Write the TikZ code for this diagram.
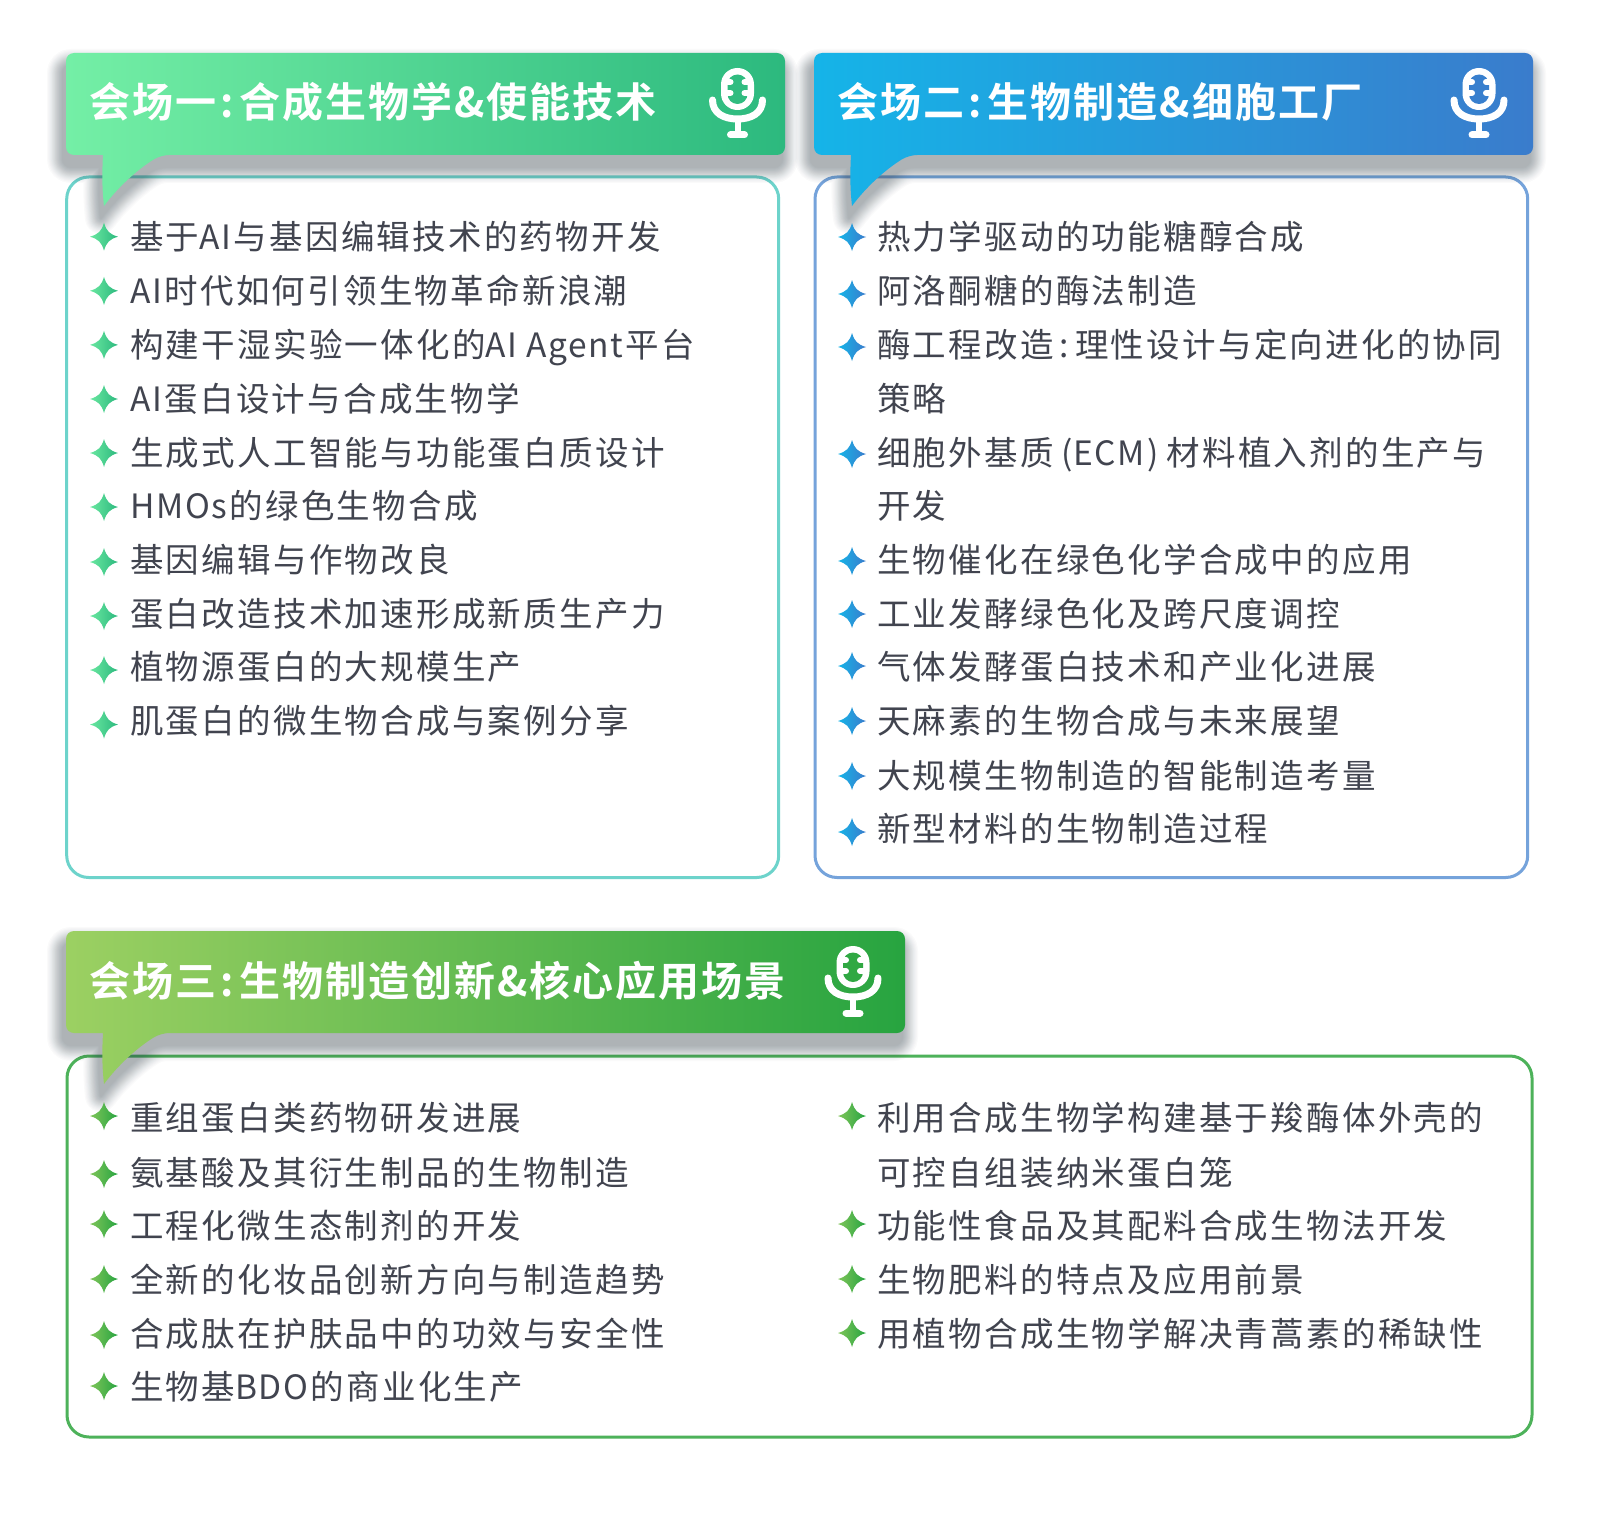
\documentclass[tikz,border=0pt]{standalone}
\usepackage{fontspec}
\setmainfont{Noto Sans CJK SC}
\newfontfamily\itemfont[LetterSpace=6.8]{Noto Sans CJK SC}
\newfontfamily\latfont[LetterSpace=4.8]{Noto Sans CJK SC}
\newfontfamily\headfont[LetterSpace=4.8,BoldFont={Noto Sans CJK SC Bold}]{Noto Sans CJK SC}
\definecolor{txtgray}{HTML}{41444F}
\definecolor{shadowgray}{HTML}{3C4A52}
\definecolor{onea}{HTML}{74EFA6}
\definecolor{oneb}{HTML}{2CB97E}
\definecolor{twoa}{HTML}{15B4E8}
\definecolor{twob}{HTML}{3A7CCC}
\definecolor{threea}{HTML}{9CD062}
\definecolor{threeb}{HTML}{27A440}
\definecolor{boxone}{HTML}{6DD3CB}
\definecolor{boxthree}{HTML}{4DB25A}
\tikzset{
  itemtxt/.style={anchor=west,inner sep=0pt,text=txtgray,text height=28pt,text depth=3pt,
    font=\itemfont\fontsize{33.5}{36}\selectfont},
  headtxt/.style={anchor=west,inner sep=0pt,text=white,text height=30pt,text depth=3pt,
    font=\headfont\bfseries\fontsize{41}{42}\selectfont},
  boxline/.style={line width=3pt,rounded corners=22pt,fill=white}
}
% banner outline, origin at its top left corner
\newcommand{\bannerpath}[1]{(30,0) [rounded corners=8pt] -- (#1,0) -- (#1,102) -- (95,102)
  [sharp corners] .. controls (72,116) and (52,134) .. (38,153)
  .. controls (36,135) and (36,120) .. (37,102)
  [rounded corners=8pt] -- (0,102) -- (0,0) -- cycle}
% banner with soft shadow: x, y, width, left colour, right colour
\newcommand{\banner}[5]{
  \begin{scope}[shift={(#1,#2)}]
    \foreach \r in {1,1.7,2.4,3.1,3.8,4.5,5.2,5.9,6.6,7.3,8,8.7,9.4,10.1,10.8,11.7,12.6,13.6,14.8,16}{
      \begin{scope}[transparency group,opacity=.023,shift={(-3,12)}]
        \path[fill=shadowgray,draw=shadowgray,line width=2*\r pt,line join=round] \bannerpath{#3};
      \end{scope}
    }
    \shade[left color=#4,right color=#5] \bannerpath{#3};
  \end{scope}
}
% microphone: centre x, banner top y, ground colour
\newcommand{\micicon}[3]{
  \begin{scope}[shift={(#1,#2)}]
    \fill[white,rounded corners=16.4pt] (-16.5,15) rectangle (16.5,57);
    \fill[#3,rounded corners=10pt] (-10,21.5) rectangle (10,51);
    \draw[white,line width=6pt,line cap=round] (-11,29) -- (-7,29) (11,29) -- (7,29)
      (-11,40) -- (-7,40) (11,40) -- (7,40);
    \draw[white,line width=7pt,line cap=round] (-25,47) .. controls (-25,60) and (-14,66) .. (0,66)
      .. controls (14,66) and (25,60) .. (25,47);
    \draw[white,line width=6pt] (0,66) -- (0,80);
    \draw[white,line width=7pt,line cap=round] (-7,82) -- (7,82);
  \end{scope}
}
% list marker: x, y, left colour, right colour
\newcommand{\starmark}[4]{
  \shade[left color=#3,right color=#4,shift={(#1,#2)}] (0,-14) .. controls (2.5,-5.5) and (5.5,-2.5) .. (14,0)
    .. controls (5.5,2.5) and (2.5,5.5) .. (0,14) .. controls (-2.5,5.5) and (-5.5,2.5) .. (-14,0)
    .. controls (-5.5,-2.5) and (-2.5,-5.5) .. (0,-14) -- cycle;
}
\newcommand{\itemcolon}{\hspace{6pt}:\hspace{6pt}}
\newcommand{\headcolon}{\hspace{4pt}:\hspace{6pt}}
\newcommand{\lat}[1]{{\latfont #1}\hspace{2.5pt}}
\begin{document}
\begin{tikzpicture}[x=1pt,y=-1pt]
  \useasboundingbox (0,0) rectangle (1600,1525);
  \fill[white] (0,0) rectangle (1600,1525);
  % frames
  \draw[boxline,draw=boxone] (66.7,177) rectangle (778.7,877.5);
  \draw[boxline,draw=twob!70!white] (815,177) rectangle (1527.7,877.5);
  \draw[boxline,draw=boxthree] (67,1056) rectangle (1532,1437);
  % banners
  \banner{66}{53}{719}{onea}{oneb}
  \banner{814}{53}{719}{twoa}{twob}
  \banner{66}{931}{839}{threea}{threeb}
  \node[headtxt] (head1) at (89,104) {会场一\headcolon 合成生物学\&使能技术};
  \node[headtxt] (head2) at (837.5,104) {会场二\headcolon 生物制造\&细胞工厂};
  \node[headtxt] (head3) at (89,983) {会场三\headcolon 生物制造创新\&核心应用场景};
  \micicon{737.5}{53}{oneb!95!onea}
  \micicon{1479}{53}{twob!95!twoa}
  \micicon{853}{931}{threeb!92!threea}
  % first hall
  \foreach \i/\ty/\sy/\txt in {
    1/236.7/236.7/基于\lat{AI}与基因编辑技术的药物开发,
    2/290.8/290.8/\lat{AI}时代如何引领生物革命新浪潮,
    3/344.9/344.9/构建干湿实验一体化的\lat{AI Agent}平台,
    4/399/399/\lat{AI}蛋白设计与合成生物学,
    5/453/453/生成式人工智能与功能蛋白质设计,
    6/506/507/\lat{HMOs}的绿色生物合成,
    7/560/562/基因编辑与作物改良,
    8/614/616/蛋白改造技术加速形成新质生产力,
    9/667/670/植物源蛋白的大规模生产,
    10/721/724.5/肌蛋白的微生物合成与案例分享}{
    \starmark{104}{\sy}{onea!85!oneb}{oneb}
    \node[itemtxt] (a\i) at (130,\ty) {\txt};
  }
  % second hall
  \foreach \i/\ty/\sy/\txt in {
    1/236.7/237/热力学驱动的功能糖醇合成,
    2/290.8/294/阿洛酮糖的酶法制造,
    3/344.9/347/酶工程改造\itemcolon 理性设计与定向进化的协同,
    4/453/454/细胞外基质\hspace{8pt}(\lat{ECM})\hspace{8pt}材料植入剂的生产与,
    5/560/561/生物催化在绿色化学合成中的应用,
    6/614/614/工业发酵绿色化及跨尺度调控,
    7/667/666/气体发酵蛋白技术和产业化进展,
    8/721/721/天麻素的生物合成与未来展望,
    9/775.5/776/大规模生物制造的智能制造考量,
    10/828.6/832/新型材料的生物制造过程}{
    \starmark{852}{\sy}{twoa}{twob}
    \node[itemtxt] (b\i) at (877,\ty) {\txt};
  }
  \node[itemtxt] (b3x) at (877,399) {策略};
  \node[itemtxt] (b4x) at (877,506) {开发};
  % third hall, left column
  \foreach \i/\ty/\sy/\txt in {
    1/1118/1116/重组蛋白类药物研发进展,
    2/1172.5/1174/氨基酸及其衍生制品的生物制造,
    3/1225.5/1224/工程化微生态制剂的开发,
    4/1279.6/1279/全新的化妆品创新方向与制造趋势,
    5/1333.6/1335/合成肽在护肤品中的功效与安全性,
    6/1386.7/1386/生物基\lat{BDO}的商业化生产}{
    \starmark{104}{\sy}{threea!75!threeb}{threeb}
    \node[itemtxt] (c\i) at (130,\ty) {\txt};
  }
  % third hall, right column
  \foreach \i/\ty/\sy/\txt in {
    1/1118/1116/利用合成生物学构建基于羧酶体外壳的,
    2/1225.5/1224/功能性食品及其配料合成生物法开发,
    3/1279.6/1279/生物肥料的特点及应用前景,
    4/1333.6/1333/用植物合成生物学解决青蒿素的稀缺性}{
    \starmark{852}{\sy}{threea!75!threeb}{threeb}
    \node[itemtxt] (d\i) at (877,\ty) {\txt};
  }
  \node[itemtxt] (d1x) at (877,1172.5) {可控自组装纳米蛋白笼};
\end{tikzpicture}
\end{document}
